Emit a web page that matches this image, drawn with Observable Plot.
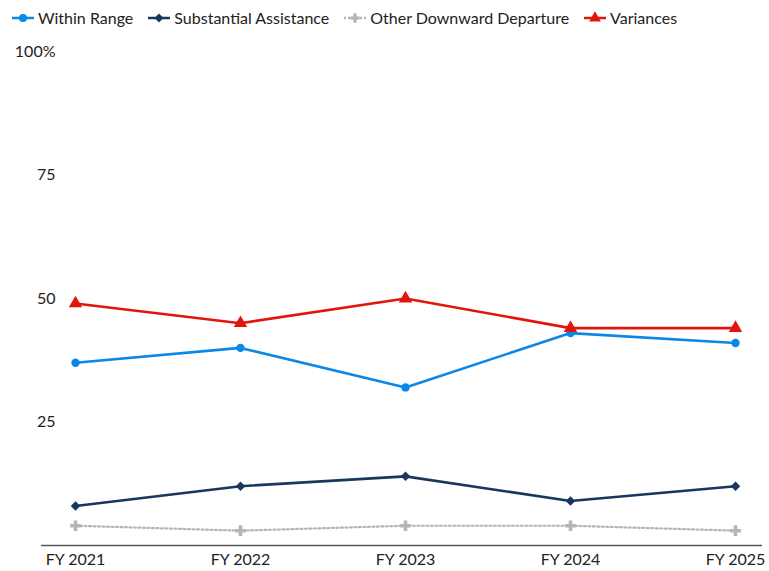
<!DOCTYPE html>
<html><head><meta charset="utf-8">
<script src="https://cdn.jsdelivr.net/npm/d3@7"></script>
<script src="https://cdn.jsdelivr.net/npm/@observablehq/plot@0.6"></script>
<style>
body{margin:0;background:#fff;font-family:Lato,sans-serif;}
#legend{display:flex;align-items:center;height:35px;padding-left:11px;font-size:16px;color:#222;}
#legend .item{display:flex;align-items:center;margin-right:14px;}
#legend svg{margin-right:3px;}
</style></head><body>
<div id="legend"></div>
<div id="chart"></div>
<script>
const years = ["FY 2021","FY 2022","FY 2023","FY 2024","FY 2025"];
const seriesNames = ["Within Range","Substantial Assistance","Other Downward Departure","Variances"];
const withinRange = [37,40,32,43,41];
const substantialAssistance = [8,12,14,9,12];
const otherDownward = [4,3,4,4,3];
const variances = [49,45,50,44,44];
const colors = ["#0b87e6","#17375e","#b5b5b5","#e1150c"];
const symbols = ["circle","square","cross","triangle"];
const yTicks = [25,50,75,100];

const valuesBySeries = [withinRange, substantialAssistance, otherDownward, variances];
const data = [];
seriesNames.forEach((s,i)=>years.forEach((y,j)=>data.push({series:s,year:y,value:valuesBySeries[i][j]})));

// legend
const leg = document.getElementById("legend");
seriesNames.forEach((s,i)=>{
  const it = document.createElement("div"); it.className="item";
  const sym = d3.symbol(d3["symbol"+symbols[i][0].toUpperCase()+symbols[i].slice(1)], i===1?40:(i===3?60:50))();
  const rot = i===1 ? " rotate(45)" : "";
  const dash = i===2 ? 'stroke-dasharray="2,2"' : '';
  it.innerHTML = `<svg width="24" height="14"><line x1="1" x2="23" y1="7" y2="7" stroke="${colors[i]}" stroke-width="2.5" ${dash}/><path d="${sym}" transform="translate(12,7)${rot}" fill="${colors[i]}"/></svg><span>${s}</span>`;
  leg.appendChild(it);
});

const marks = [Plot.ruleY([0], {stroke:"#555", strokeWidth:1.5})];
seriesNames.forEach((s,i)=>{
  const d = data.filter(r=>r.series===s);
  marks.push(Plot.line(d,{x:"year",y:"value",stroke:colors[i],strokeWidth:i===2?2.2:2.6,strokeDasharray:i===2?"2,2.5":null}));
  marks.push(Plot.dot(d,{x:"year",y:"value",fill:colors[i],symbol:()=>symbols[i],rotate:i===1?45:0,r:i===3?5:(i===2?4.5:(i===1?3.8:4.2))}));
});
marks.push(Plot.axisY(yTicks,{tickSize:0,tickPadding:-14,tickFormat:d=>d===100?"100%":String(d),fontSize:16,fill:"#222"}));
marks.push(Plot.axisX({tickSize:0,tickPadding:8,fontSize:16,fill:"#222"}));

const chart = Plot.plot({
  width:769, height:536,
  marginLeft:41, marginRight:7, marginTop:16, marginBottom:26,
  style:{fontFamily:"Lato, sans-serif", fontSize:"16px", color:"#222"},
  x:{type:"point", domain:years, padding:0, insetLeft:34, insetRight:27, label:null},
  y:{domain:[0,100], label:null},
  marks
});
document.getElementById("chart").appendChild(chart);
</script>
</body></html>
